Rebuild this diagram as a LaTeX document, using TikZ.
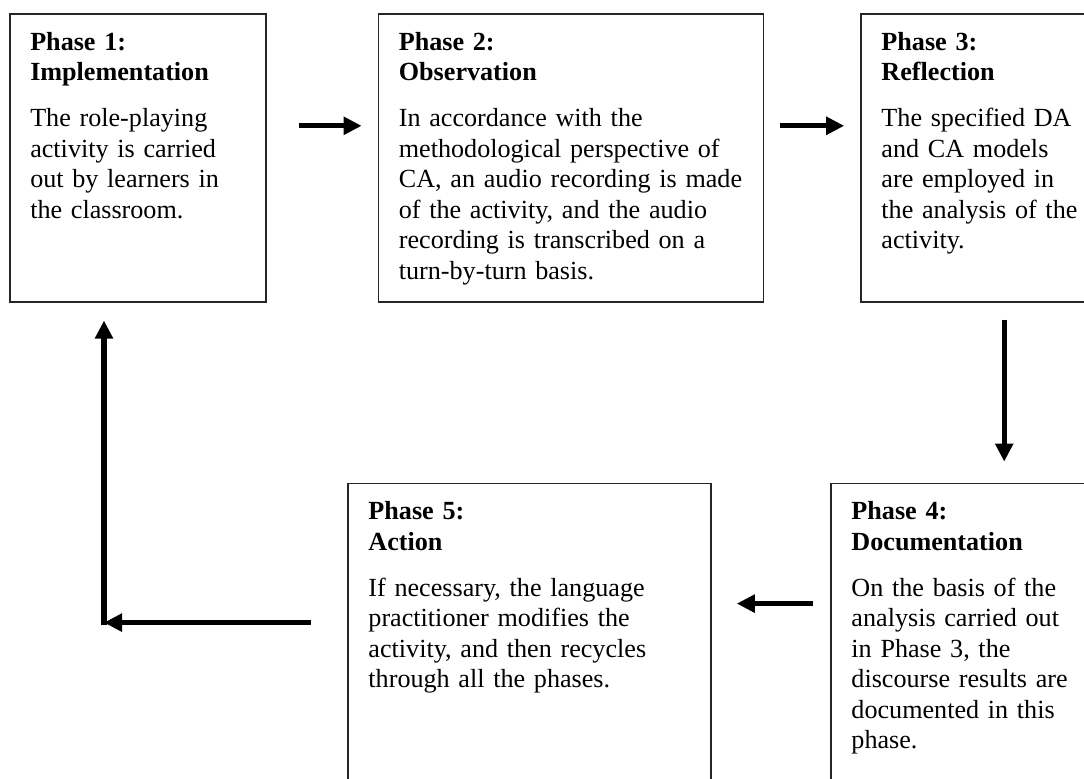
\documentclass[tikz,border=0pt]{standalone}
\usepackage{fontspec}
\setmainfont{Liberation Serif}
\usetikzlibrary{arrows.meta}
\tikzstyle{phase}=[draw, line width=1.2pt, color=black!85, anchor=north west,
  inner sep=0pt, minimum height=216pt]
\tikzstyle{phasetext} = [anchor=base west, inner sep=0pt, text width=300pt, align=left,
  font=\fontsize{19.6pt}{22.9pt}\selectfont]
\tikzstyle{line} = [draw, line width=4pt, color=black,
  -{Triangle[length=13.5pt,width=13pt]}]

\begin{document}
\begin{tikzpicture}[x=0.75pt,y=-0.75pt]
  \useasboundingbox (0,0) rectangle (1084,778);
  \clip (0,0) rectangle (1084,778);

  \path (9,13) node (p1) [phase, minimum width=192pt] {};
  \path (p1.north east)+(111,0) node (p2) [phase, minimum width=288.75pt] {};
  \path (p2.north east)+(96,0) node (p3) [phase, minimum width=174.75pt] {};
  \path (p3.south west)+(-30,180) node (p4) [phase, minimum width=197.25pt, minimum height=240pt] {};
  \path (p4.north west)+(-483,0) node (p5) [phase, minimum width=272.25pt, minimum height=240pt] {};

  \path (p1.north west)+(21,37) node (t1) [phasetext] {\textbf{Phase 1:}\\ \textbf{Implementation}\\[11.6pt]
    The role-playing\\ activity is carried\\ out by learners in\\ the classroom.};
  \path (p2.north west)+(21,37) node (t2) [phasetext] {\textbf{Phase 2:}\\ \textbf{Observation}\\[11.6pt]
    In accordance with the\\ methodological perspective of\\ CA, an audio recording is made\\
    of the activity, and the audio\\ recording is transcribed on a\\ turn-by-turn basis.};
  \path (p3.north west)+(21,37) node (t3) [phasetext] {\textbf{Phase 3:}\\ \textbf{Reflection}\\[11.6pt]
    The specified DA\\ and CA models\\ are employed in\\ the analysis of the\\ activity.};
  \path (p4.north west)+(21,37) node (t4) [phasetext] {\textbf{Phase 4:}\\ \textbf{Documentation}\\[11.6pt]
    On the basis of the\\ analysis carried out\\ in Phase 3, the\\ discourse results are\\
    documented in this\\ phase.};
  \path (p5.north west)+(21,37) node (t5) [phasetext] {\textbf{Phase 5:}\\ \textbf{Action}\\[11.6pt]
    If necessary, the language\\ practitioner modifies the\\ activity, and then recycles\\
    through all the phases.};

  \path (p1.south west)+(95,320) coordinate (c51);

  \path [line, shorten <=24pt, shorten >=12pt] ([yshift=24pt]p1.east) -- ([yshift=24pt]p2.west);
  \path [line, shorten <=12pt, shorten >=12pt] ([yshift=24pt]p2.east) -- ([yshift=24pt]p3.west);
  \path [line, shorten <=12.75pt, shorten >=15.75pt] ([xshift=108pt]p3.south west) -- ([xshift=108pt]p3.south west |- p4.north);
  \path [line, shorten <=12.75pt, shorten >=18.75pt] ([yshift=-90.75pt]p4.north west) -- ([yshift=-90.75pt]p4.north west -| p5.east);
  \path [line, shorten <=27pt] ([yshift=-105pt]p5.north west) -- (c51);
  \path [line, shorten <=-2pt, shorten >=13.5pt] (c51) -- (c51 |- p1.south);
\end{tikzpicture}
\end{document}
